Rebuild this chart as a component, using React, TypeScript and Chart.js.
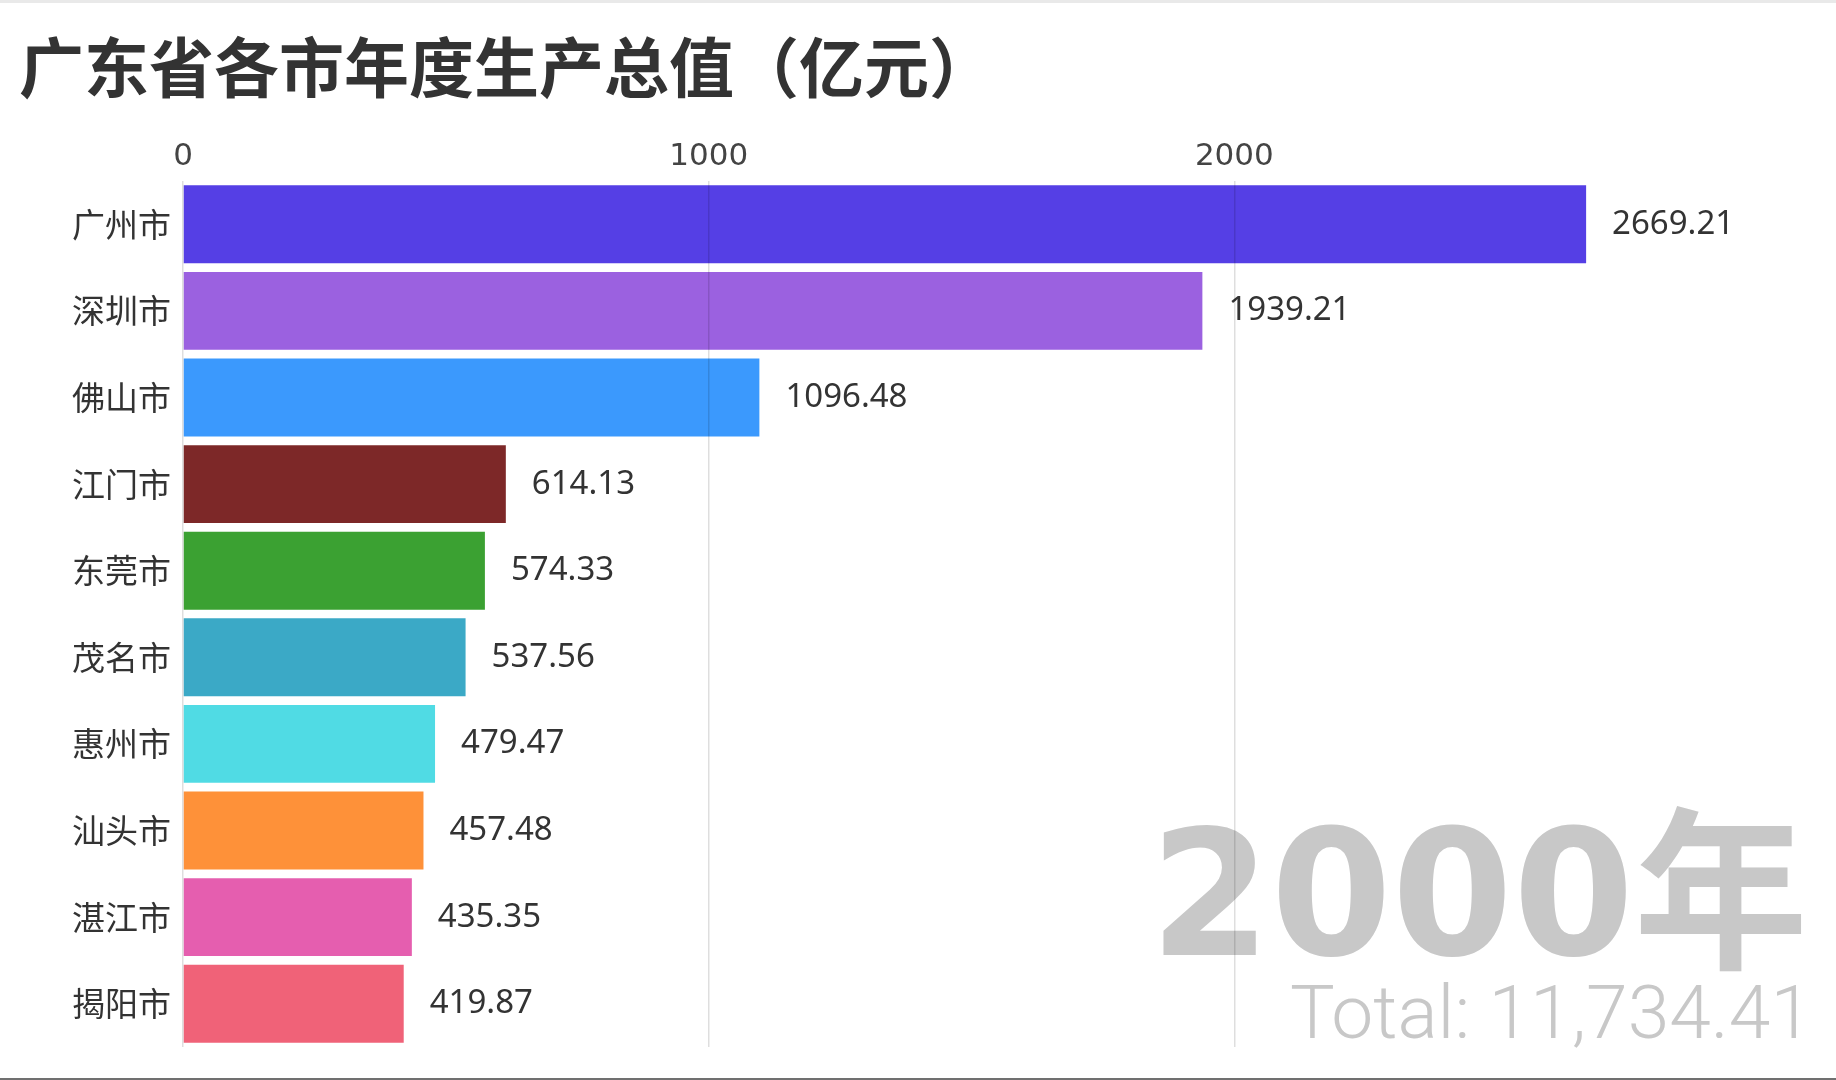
import React, { useEffect, useRef } from "react";
import { Chart, registerables } from "chart.js";

Chart.register(...registerables);

const cities = ["广州市", "深圳市", "佛山市", "江门市", "东莞市", "茂名市", "惠州市", "汕头市", "湛江市", "揭阳市"];
const gdp = [2669.21, 1939.21, 1096.48, 614.13, 574.33, 537.56, 479.47, 457.48, 435.35, 419.87];
const barColors = ["#553fe5", "#9b61e0", "#3b99fd", "#7d2828", "#3ba132", "#3ba9c6", "#50dbe4", "#fe9139", "#e55eaf", "#f06278"];
const xTicks = [0, 1000, 2000];
const titleText = "广东省各市年度生产总值（亿元）";
const yearText = "2000年";
const totalText = "Total: 11,734.41";

const W = 1836;
const H = 1080;

const overlayPlugin = {
  id: "overlay",
  beforeDraw(chart: any) {
    const ctx = chart.ctx;
    ctx.save();
    ctx.fillStyle = "#ffffff";
    ctx.fillRect(0, 0, W, H);
    ctx.fillStyle = "#e9e9e9";
    ctx.fillRect(0, 0, W, 3);
    ctx.fillStyle = "#707070";
    ctx.fillRect(0, H - 2, W, 2);
    // title
    ctx.fillStyle = "#333333";
    ctx.font = 'bold 65px "Noto Sans CJK SC", sans-serif';
    ctx.textAlign = "left";
    ctx.textBaseline = "middle";
    ctx.fillText(titleText, 19, 67);
    // year
    ctx.fillStyle = "#c8c8c8";
    ctx.textAlign = "right";
    ctx.textBaseline = "alphabetic";
    ctx.font = 'bold 174px "DejaVu Sans", "Noto Sans CJK SC", sans-serif';
    ctx.fillText(yearText, 1808, 955);
    ctx.font = '300 75px Roboto, "Noto Sans", sans-serif';
    ctx.fillText(totalText, 1812, 1038);
    ctx.restore();
  },
  afterDatasetsDraw(chart: any) {
    const ctx = chart.ctx;
    const meta = chart.getDatasetMeta(0);
    ctx.save();
    ctx.fillStyle = "#333333";
    ctx.font = '33px "Noto Sans", sans-serif';
    ctx.textAlign = "left";
    ctx.textBaseline = "middle";
    meta.data.forEach((el: any, i: number) => {
      const v = chart.data.datasets[0].data[i] as number;
      ctx.fillText(v.toFixed(2), el.x + 26, el.y);
    });
    ctx.restore();
  },
};

export default function App() {
  const ref = useRef<HTMLCanvasElement | null>(null);
  useEffect(() => {
    if (!ref.current) return;
    const chart = new Chart(ref.current, {
      type: "bar",
      data: {
        labels: cities,
        datasets: [
          {
            data: gdp,
            backgroundColor: barColors,
            borderWidth: 0,
            categoryPercentage: 0.9,
            barPercentage: 1,
          },
        ],
      },
      options: {
        animation: false,
        responsive: false,
        indexAxis: "y",
        layout: { padding: { left: 0, right: 76, top: 0, bottom: 33 } },
        plugins: {
          legend: { display: false },
          tooltip: { enabled: false },
          title: { display: false },
        },
        scales: {
          x: {
            position: "top",
            min: 0,
            max: 3000,
            afterBuildTicks: (s: any) => {
              s.ticks = xTicks.map((v) => ({ value: v }));
            },
            afterFit: (s: any) => {
              s.height = 181;
            },
            grid: { color: "rgba(0,0,0,0.13)", drawTicks: false, z: 1, lineWidth: 1.5 },
            border: { display: false },
            ticks: {
              padding: 5,
              color: "#444444",
              font: { family: '"DejaVu Sans", sans-serif', size: 31 },
              callback: (v: any) => String(v),
            },
          },
          y: {
            afterFit: (s: any) => {
              s.width = 183;
            },
            grid: { display: false, drawTicks: false },
            border: { display: false },
            ticks: {
              padding: 12,
              color: "#333333",
              font: { family: '"Noto Sans CJK SC", sans-serif', size: 33 },
            },
          },
        },
      } as any,
      plugins: [overlayPlugin],
    });
    return () => chart.destroy();
  }, []);
  return (
    <canvas
      ref={ref}
      width={W}
      height={H}
      style={{ position: "fixed", left: 0, top: 0, width: W, height: H, display: "block" }}
    />
  );
}
